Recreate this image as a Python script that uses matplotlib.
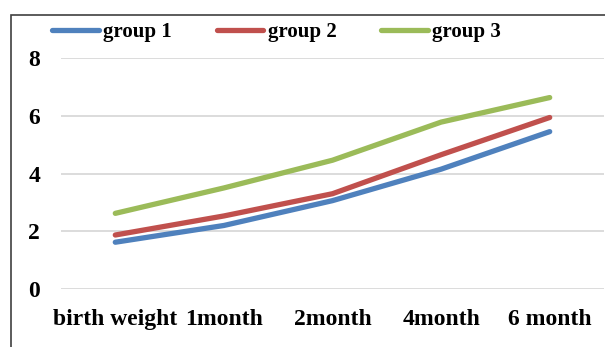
import numpy as np
import matplotlib.pyplot as plt
from matplotlib.patches import Rectangle

# data
months = ["birth weight", "1month", "2month", "4month", "6month"]
tick_labels = ["birth weight", "1month", "2month", "4month", "6 month"]
group1 = [1.62, 2.2, 3.06, 4.15, 5.45]
group2 = [1.87, 2.53, 3.3, 4.65, 5.94]
group3 = [2.62, 3.5, 4.46, 5.78, 6.63]

plt.rcParams['font.family'] = ['Liberation Serif', 'DejaVu Serif']
plt.rcParams['font.weight'] = 'bold'

fig = plt.figure(figsize=(6.05, 3.47), dpi=100)
ax = fig.add_axes([61/605, 1-289/347, 543/605, 231/347])

x = np.arange(len(months))
ax.plot(x, group1, color="#4F81BD", lw=3.8, solid_capstyle="round", label="group 1")
ax.plot(x, group2, color="#C0504D", lw=3.8, solid_capstyle="round", label="group 2")
ax.plot(x, group3, color="#9BBB59", lw=3.8, solid_capstyle="round", label="group 3")

ax.set_xlim(-0.5, len(months) - 0.5)
ax.set_ylim(0, 8)
ax.set_yticks([0, 2, 4, 6, 8])
ax.set_xticks(x)
ax.set_xticklabels(tick_labels)
ax.yaxis.grid(True, color="#d9d9d9", lw=1.3)
ax.set_axisbelow(True)
for s in ax.spines.values():
    s.set_visible(False)
ax.tick_params(axis="both", length=0, labelsize=17)
ax.tick_params(axis="y", pad=15)
ax.tick_params(axis="x", pad=14.5)

fig.legend(loc="center", bbox_to_anchor=(276.5/605, 1-32/347), ncol=3, frameon=False,
           fontsize=15, handlelength=2.25, handletextpad=0.2, columnspacing=2.15)

# outer frame
fig.add_artist(Rectangle((11/605, -0.1), 1.2, 1 - 15/347 + 0.1, transform=fig.transFigure,
                         fill=False, edgecolor="#404040", lw=1.2, clip_on=False))

fig.savefig("out.png", dpi=100)
